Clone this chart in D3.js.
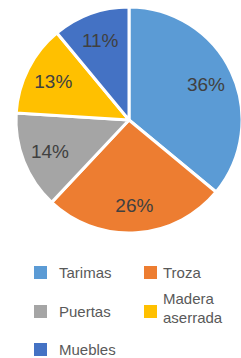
<!DOCTYPE html>
<html>
<head>
<meta charset="utf-8">
<script src="https://cdn.jsdelivr.net/npm/d3@7/dist/d3.min.js"></script>
<style>
	body { margin: 0; background: #fff; }
	svg { display: block; font-family: "Liberation Sans", Arial, sans-serif; }
</style>
</head>
<body>
<div id="chart"></div>
<script>
var labels = ["Tarimas", "Troza", "Puertas", "Madera aserrada", "Muebles"];
var values = [36, 26, 14, 13, 11];
var colors = ["#5B9BD5", "#ED7D31", "#A5A5A5", "#FFC000", "#4472C4"];

var width = 241,
	height = 358,
	radius = 113;

var svg = d3.select("#chart").append("svg")
	.attr("width", width)
	.attr("height", height);

var g = svg.append("g").attr("transform", "translate(129,120)");

var data = labels.map(function(l, i) { return { label: l, value: values[i] }; });
var color = d3.scaleOrdinal().domain(labels).range(colors);

var pie = d3.pie().sort(null).value(function(d) { return d.value; });
var arc = d3.arc().innerRadius(0).outerRadius(radius);
var labelArc = d3.arc().innerRadius(85).outerRadius(85);

/* slices */
g.selectAll("path.slice")
	.data(pie(data))
	.enter().append("path")
	.attr("class", "slice")
	.attr("d", arc)
	.style("fill", function(d) { return color(d.data.label); })
	.style("stroke", "#fff")
	.style("stroke-width", 3)
	.style("stroke-linejoin", "round");

/* percent labels */
g.selectAll("text.pct")
	.data(pie(data))
	.enter().append("text")
	.attr("class", "pct")
	.attr("transform", function(d) { return "translate(" + labelArc.centroid(d) + ")"; })
	.attr("text-anchor", "middle")
	.attr("dy", "0.36em")
	.style("font-size", "19px")
	.style("fill", "#404040")
	.text(function(d) { return d.data.value + "%"; });

/* legend */
var legendPos = [[34, 266], [144, 266], [34, 305], [144, 305], [34, 343]];
var legend = svg.selectAll("g.legend")
	.data(data)
	.enter().append("g")
	.attr("class", "legend")
	.attr("transform", function(d, i) { return "translate(" + legendPos[i] + ")"; });

legend.append("rect")
	.attr("width", 13)
	.attr("height", 13)
	.style("fill", function(d) { return color(d.label); });

legend.each(function(d, i) {
	var words = d.label.split(" ");
	var t = d3.select(this).append("text")
		.attr("x", i % 2 ? 19 : 25)
		.style("font-size", "15px")
		.style("fill", "#595959");
	if (words.length > 1) {
		t.selectAll("tspan").data(words).enter().append("tspan")
			.attr("x", 19)
			.attr("y", function(w, j) { return -1 + j * 19; })
			.text(function(w) { return w; });
	} else {
		t.attr("y", 11.5).text(d.label);
	}
});
</script>
</body>
</html>
